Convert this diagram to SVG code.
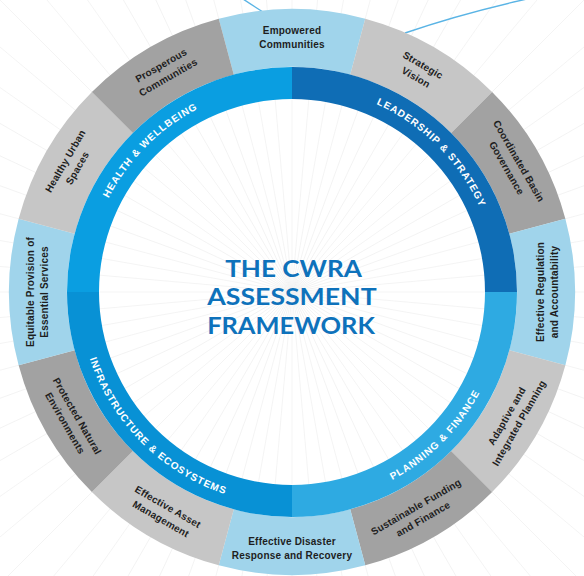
<svg xmlns="http://www.w3.org/2000/svg" xmlns:xlink="http://www.w3.org/1999/xlink" width="584" height="576" viewBox="0 0 584 576">
  <style>
    .seg-lb { fill: #a0d4eb; }
    .seg-lg { fill: #c6c6c6; }
    .seg-dg { fill: #a2a2a2; }
    .pillar-health { fill: #0a9ee1; }
    .pillar-lead { fill: #0f6db5; }
    .pillar-plan { fill: #2eaae2; }
    .pillar-infra { fill: #0891d5; }
    .seg-text { font-family: "Liberation Sans", Arial, sans-serif; font-size: 10px; font-weight: bold; fill: #1e1e1e; text-anchor: middle; letter-spacing: 0.2px; }
    .pillar-text { font-family: "Liberation Sans", Arial, sans-serif; font-size: 10px; font-weight: bold; fill: #ffffff; letter-spacing: 0.9px; }
    .title { font-family: Lato, "Liberation Sans", sans-serif; font-size: 23.5px; font-weight: 700; fill: #0e72bb; text-anchor: middle; }
    .ray { stroke: #f2f2f2; stroke-width: 0.8; }
    .swoosh { fill: none; stroke: #5ab4e5; stroke-width: 1.4; }
  </style>
  <defs>
    <line id="ray" class="ray" x1="0" y1="0" x2="460" y2="0"/>
    <g id="rays6">
      <use href="#ray"/>
      <use href="#ray" transform="rotate(5)"/>
      <use href="#ray" transform="rotate(10)"/>
      <use href="#ray" transform="rotate(15)"/>
      <use href="#ray" transform="rotate(20)"/>
      <use href="#ray" transform="rotate(25)"/>
    </g>
    <!-- baselines for the pillar labels -->
    <path id="arc-tl" d="M 86 292 A 206 206 0 0 1 292 86"/>
    <path id="arc-tr" d="M 292 86 A 206 206 0 0 1 498 292"/>
    <path id="arc-br" d="M 292 505 A 213 213 0 0 0 505 292"/>
    <path id="arc-bl" d="M 79 292 A 213 213 0 0 0 292 505"/>
  </defs>

  <rect width="584" height="576" fill="#ffffff"/>

  <!-- faint background rays -->
  <g id="background-rays" transform="translate(292 292)">
    <use href="#rays6"/>
    <use href="#rays6" transform="rotate(30)"/>
    <use href="#rays6" transform="rotate(60)"/>
    <use href="#rays6" transform="rotate(90)"/>
    <use href="#rays6" transform="rotate(120)"/>
    <use href="#rays6" transform="rotate(150)"/>
    <use href="#rays6" transform="rotate(180)"/>
    <use href="#rays6" transform="rotate(210)"/>
    <use href="#rays6" transform="rotate(240)"/>
    <use href="#rays6" transform="rotate(270)"/>
    <use href="#rays6" transform="rotate(300)"/>
    <use href="#rays6" transform="rotate(330)"/>
  </g>

  <!-- thin blue lines leaving the top of the wheel -->
  <g id="connectors">
    <path class="swoosh" d="M 243 -1 Q 252 5 263 12"/>
    <path class="swoosh" d="M 405 33 Q 460 14 527 -1"/>
  </g>

  <!-- outer ring: twelve criteria -->
  <g id="seg-empowered">
    <path class="seg-lb" d="M 218.75 18.64 A 283 283 0 0 1 365.25 18.64 L 350.23 74.67 A 225 225 0 0 0 233.77 74.67 Z"/>
    <g transform="translate(292 37)"><text class="seg-text" y="-3.4">Empowered</text><text class="seg-text" y="10.6">Communities</text></g>
  </g>
  <g id="seg-strategic">
    <path class="seg-lg" d="M 365.25 18.64 A 283 283 0 0 1 492.11 91.89 L 451.10 132.90 A 225 225 0 0 0 350.23 74.67 Z"/>
    <g transform="translate(419.5 71.2) rotate(30)"><text class="seg-text" y="-3.4">Strategic</text><text class="seg-text" y="10.6">Vision</text></g>
  </g>
  <g id="seg-coordinated">
    <path class="seg-dg" d="M 492.11 91.89 A 283 283 0 0 1 565.36 218.75 L 509.33 233.77 A 225 225 0 0 0 451.10 132.90 Z"/>
    <g transform="translate(512.8 164.5) rotate(60)"><text class="seg-text" y="-3.4">Coordinated Basin</text><text class="seg-text" y="10.6">Governance</text></g>
  </g>
  <g id="seg-regulation">
    <path class="seg-lb" d="M 565.36 218.75 A 283 283 0 0 1 565.36 365.25 L 509.33 350.23 A 225 225 0 0 0 509.33 233.77 Z"/>
    <g transform="translate(547 292) rotate(-90)"><text class="seg-text" y="-3.4">Effective Regulation</text><text class="seg-text" y="10.6">and Accountability</text></g>
  </g>
  <g id="seg-adaptive">
    <path class="seg-lg" d="M 565.36 365.25 A 283 283 0 0 1 492.11 492.11 L 451.10 451.10 A 225 225 0 0 0 509.33 350.23 Z"/>
    <g transform="translate(512.8 419.5) rotate(-60)"><text class="seg-text" y="-3.4">Adaptive and</text><text class="seg-text" y="10.6">Integrated Planning</text></g>
  </g>
  <g id="seg-funding">
    <path class="seg-dg" d="M 492.11 492.11 A 283 283 0 0 1 365.25 565.36 L 350.23 509.33 A 225 225 0 0 0 451.10 451.10 Z"/>
    <g transform="translate(419.5 512.8) rotate(-30)"><text class="seg-text" y="-3.4">Sustainable Funding</text><text class="seg-text" y="10.6">and Finance</text></g>
  </g>
  <g id="seg-disaster">
    <path class="seg-lb" d="M 365.25 565.36 A 283 283 0 0 1 218.75 565.36 L 233.77 509.33 A 225 225 0 0 0 350.23 509.33 Z"/>
    <g transform="translate(292 548)"><text class="seg-text" y="-3.4">Effective Disaster</text><text class="seg-text" y="10.6">Response and Recovery</text></g>
  </g>
  <g id="seg-asset">
    <path class="seg-lg" d="M 218.75 565.36 A 283 283 0 0 1 91.89 492.11 L 132.90 451.10 A 225 225 0 0 0 233.77 509.33 Z"/>
    <g transform="translate(164.5 512.8) rotate(30)"><text class="seg-text" y="-3.4">Effective Asset</text><text class="seg-text" y="10.6">Management</text></g>
  </g>
  <g id="seg-protected">
    <path class="seg-dg" d="M 91.89 492.11 A 283 283 0 0 1 18.64 365.25 L 74.67 350.23 A 225 225 0 0 0 132.90 451.10 Z"/>
    <g transform="translate(71.2 419.5) rotate(60)"><text class="seg-text" y="-3.4">Protected Natural</text><text class="seg-text" y="10.6">Environments</text></g>
  </g>
  <g id="seg-equitable">
    <path class="seg-lb" d="M 18.64 365.25 A 283 283 0 0 1 18.64 218.75 L 74.67 233.77 A 225 225 0 0 0 74.67 350.23 Z"/>
    <g transform="translate(37 292) rotate(-90)"><text class="seg-text" y="-3.4">Equitable Provision of</text><text class="seg-text" y="10.6">Essential Services</text></g>
  </g>
  <g id="seg-healthy">
    <path class="seg-lg" d="M 18.64 218.75 A 283 283 0 0 1 91.89 91.89 L 132.90 132.90 A 225 225 0 0 0 74.67 233.77 Z"/>
    <g transform="translate(71.2 164.5) rotate(-60)"><text class="seg-text" y="-3.4">Healthy Urban</text><text class="seg-text" y="10.6">Spaces</text></g>
  </g>
  <g id="seg-prosperous">
    <path class="seg-dg" d="M 91.89 91.89 A 283 283 0 0 1 218.75 18.64 L 233.77 74.67 A 225 225 0 0 0 132.90 132.90 Z"/>
    <g transform="translate(164.5 71.2) rotate(-30)"><text class="seg-text" y="-3.4">Prosperous</text><text class="seg-text" y="10.6">Communities</text></g>
  </g>

  <!-- inner ring: four pillars -->
  <g id="pillar-health">
    <path class="pillar-health" d="M 67 292 A 225 225 0 0 1 292 67 L 292 99 A 193 193 0 0 0 99 292 Z"/>
    <text class="pillar-text"><textPath href="#arc-tl" startOffset="50%" text-anchor="middle">HEALTH &amp; WELLBEING</textPath></text>
  </g>
  <g id="pillar-leadership">
    <path class="pillar-lead" d="M 292 67 A 225 225 0 0 1 517 292 L 485 292 A 193 193 0 0 0 292 99 Z"/>
    <text class="pillar-text"><textPath href="#arc-tr" startOffset="50%" text-anchor="middle">LEADERSHIP &amp; STRATEGY</textPath></text>
  </g>
  <g id="pillar-planning">
    <path class="pillar-plan" d="M 517 292 A 225 225 0 0 1 292 517 L 292 485 A 193 193 0 0 0 485 292 Z"/>
    <text class="pillar-text"><textPath href="#arc-br" startOffset="50%" text-anchor="middle">PLANNING &amp; FINANCE</textPath></text>
  </g>
  <g id="pillar-infrastructure">
    <path class="pillar-infra" d="M 292 517 A 225 225 0 0 1 67 292 L 99 292 A 193 193 0 0 0 292 485 Z"/>
    <text class="pillar-text"><textPath href="#arc-bl" startOffset="50%" text-anchor="middle">INFRASTRUCTURE &amp; ECOSYSTEMS</textPath></text>
  </g>

  <!-- centre title -->
  <g id="title">
    <text class="title" x="293.5" y="276.7" textLength="136.7" lengthAdjust="spacingAndGlyphs">THE CWRA</text>
    <text class="title" x="292" y="305" textLength="169.3" lengthAdjust="spacingAndGlyphs">ASSESSMENT</text>
    <text class="title" x="291" y="334" textLength="167.7" lengthAdjust="spacingAndGlyphs">FRAMEWORK</text>
  </g>
</svg>
